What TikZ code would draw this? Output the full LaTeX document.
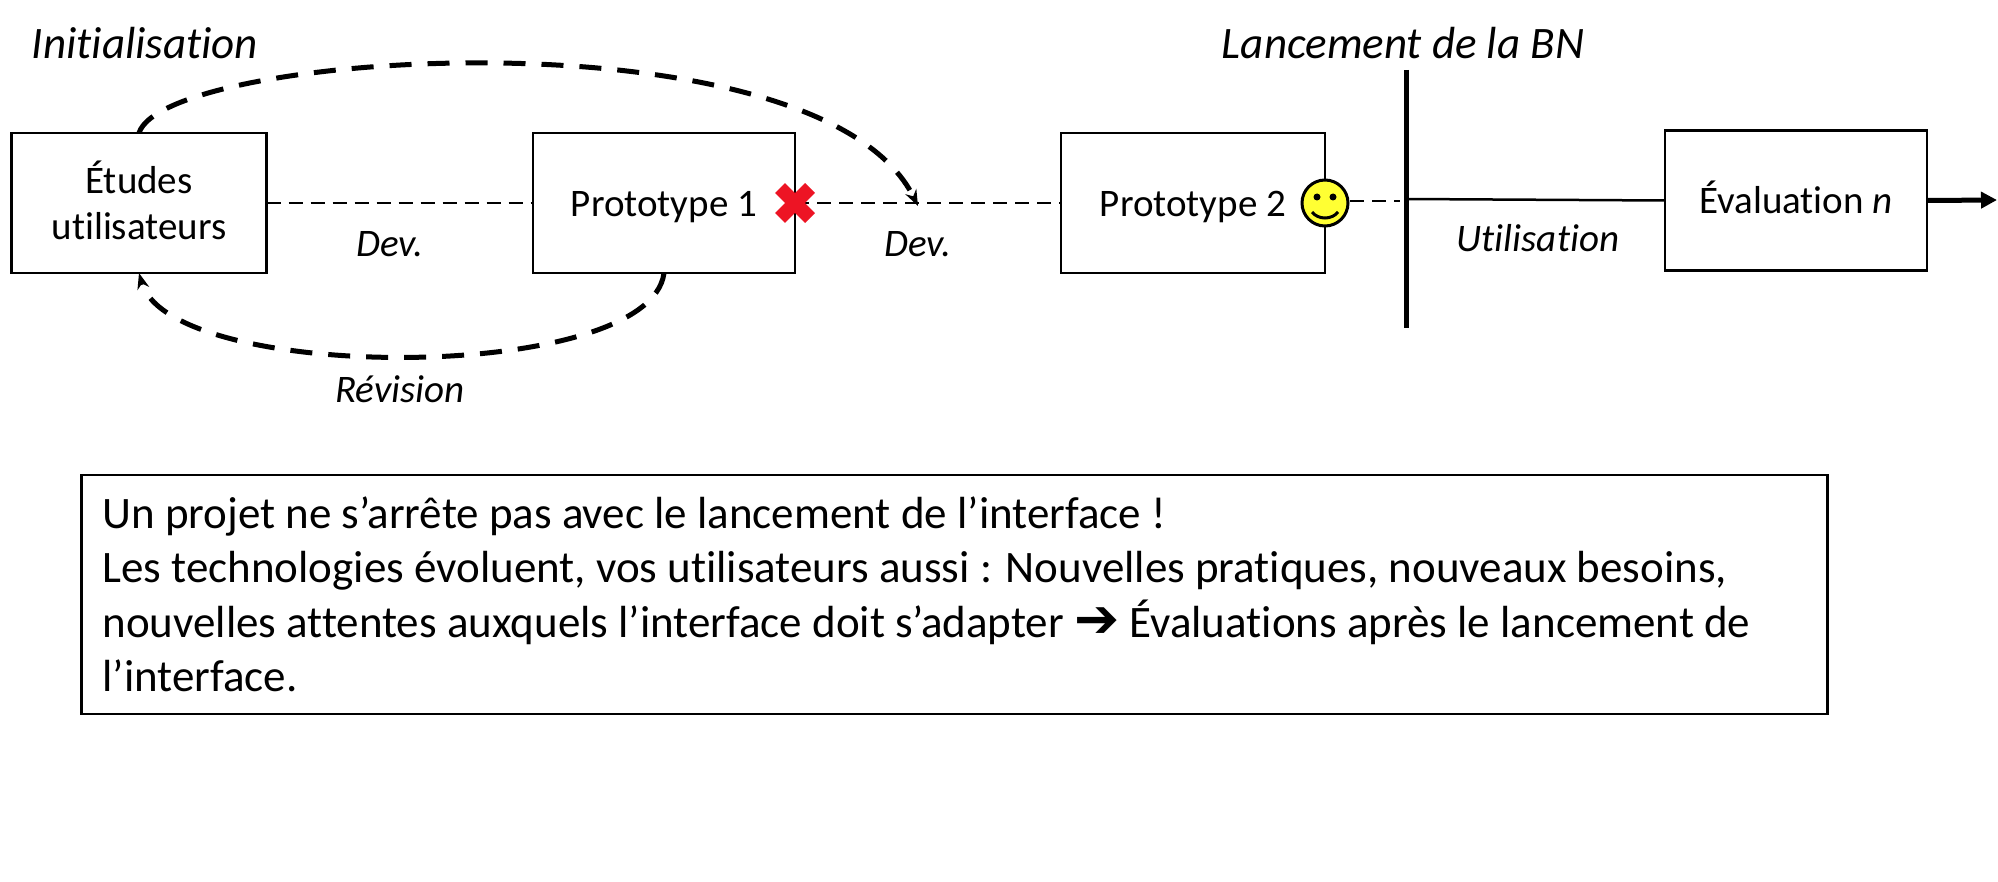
\documentclass[tikz,border=0pt]{standalone}
\usepackage{fontspec}
\setmainfont[Ligatures=NoCommon]{Carlito}
\newfontfamily\symbfont{DejaVu Sans}
\usetikzlibrary{arrows.meta,shapes.misc}
\definecolor{crossred}{RGB}{237,20,36}
\definecolor{smileyyellow}{RGB}{255,255,51}
\tikzset{
  boxnode/.style={draw,line width=1.25pt,minimum height=70pt,inner sep=0pt,outer sep=0pt,align=center,font=\fontsize{19.5}{23}\selectfont},
  labelnode/.style={inner sep=0pt,font=\fontsize{19.5}{23}\selectfont\itshape},
  titlenode/.style={inner sep=0pt,font=\fontsize{22.5}{27}\selectfont\itshape},
  thindash/.style={line width=1pt,dash pattern=on 7pt off 4pt},
  thickdash/.style={line width=2.5pt,dash pattern=on 11pt off 8pt,-{Stealth[length=8pt,width=6pt]}},
}
\begin{document}
\begin{tikzpicture}[x=0.5pt,y=-0.5pt]
  \useasboundingbox (0,0) rectangle (1998,882);
  \draw
    (139,203) node[boxnode,minimum width=127.5pt,text depth=3pt] (etudes){Études\\utilisateurs}
    (664,203) node[boxnode,minimum width=131pt,text height=15.8pt,text depth=2.5pt] (proto1){Prototype 1}
    (1193,203) node[boxnode,minimum width=132pt,text height=15.8pt,text depth=2.5pt] (proto2){Prototype 2}
    (1796,200.5) node[boxnode,minimum width=131pt,text height=15.5pt,text depth=2.5pt] (evaln){Évaluation \textit{n}};
  \draw
    (145,43) node[titlenode] (init){Initialisation}
    (1403,43) node[titlenode] (lancement){Lancement de la BN}
    (390,244) node[labelnode] (dev1){Dev.}
    (918,244) node[labelnode] (dev2){Dev.}
    (400,389) node[labelnode] (revision){Révision}
    (1538,238) node[labelnode] (utilisation){Utilisation};
  \draw
    (1406,70) coordinate (bartop)
    (1406,328) coordinate (barbot)
    (1400,201) coordinate (barleft)
    (1406,199) coordinate (barright)
    (1997,200) coordinate (arrowend)
    (918,206) coordinate (devtip);
  \begin{scope}[-]
    \draw[thindash] (etudes.east) to (proto1.west);
    \draw[thindash] (proto1.east) to (proto2.west);
    \draw[line width=2.5pt] (bartop) to (barbot);
    \draw[line width=1.25pt] (barright) to (evaln.west);
  \end{scope}
  \draw[line width=2.5pt,-{Triangle[length=8pt,width=8pt]}] (evaln.east) to (arrowend);
  \draw[thickdash] (etudes.north) .. controls (165,50) and (820,8) .. (devtip);
  \draw[thickdash] (proto1.south) .. controls (650,384) and (170,384) .. (etudes.south);
  % cross and smiley sit on the box edges
  \node[cross out,draw=crossred,line width=7pt,minimum width=8pt,minimum height=8pt,inner sep=0pt] (cross) at (795,203) {};
  \node[circle,draw,fill=smileyyellow,line width=1.5pt,minimum size=23pt,inner sep=0pt,outer sep=0pt] (smiley) at (1325,203) {};
  \draw[thindash] (smiley.east) ++(2,-2) coordinate (smileyright) (smileyright) to (barleft);
  \fill (1317,197) circle (3.5) (1333,197) circle (3.5);
  \draw[line width=1.5pt] (1312,212) .. controls (1318,220) and (1332,220) .. (1338,212);
  \node[draw,line width=1.25pt,text width=852pt,inner xsep=10.5pt,inner ysep=0pt,minimum height=119.5pt,align=flush left,outer sep=0pt,font=\fontsize{22.5}{27.2}\selectfont] (note) at (954.5,594.5)
    {\spaceskip=0pt\xspaceskip=0pt Un projet ne s’arrête pas avec le lancement de l’interface !\\
     Les technologies évoluent, vos utilisateurs aussi : Nouvelles pratiques, nouveaux besoins,\\
     nouvelles attentes auxquels l’interface doit s’adapter {\symbfont\bfseries\fontsize{27}{27}\selectfont ➔} Évaluations après le lancement de\\
     l’interface.};
\end{tikzpicture}
\end{document}
